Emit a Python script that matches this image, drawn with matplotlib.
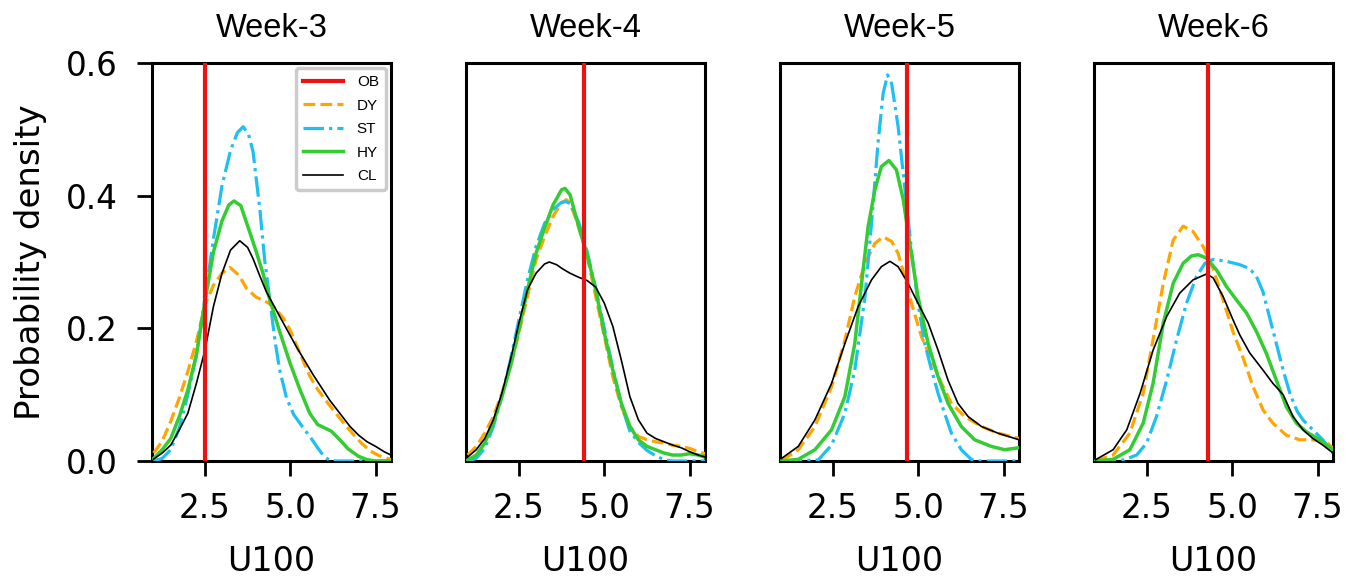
import matplotlib
matplotlib.use("Agg")
import matplotlib.pyplot as plt

# ---------------- data ----------------
WEEKS = ["Week-3", "Week-4", "Week-5", "Week-6"]
OB_VALUES = [2.5, 4.41, 4.67, 4.29]
SERIES = ["OB", "DY", "ST", "HY", "CL"]
X_TICKS = [2.5, 5.0, 7.5]
X_TICK_LABELS = ["2.5", "5.0", "7.5"]
Y_TICKS = [0.0, 0.2, 0.4, 0.6]
Y_TICK_LABELS = ["0.0", "0.2", "0.4", "0.6"]

# Week-3 density curves: (U100, density)
W3_DY = [(1.0, .012), (1.25, .03), (1.5, .06), (1.75, .095), (2.0, .135), (2.25, .18),
         (2.5, .235), (2.75, .265), (3.0, .283), (3.23, .292), (3.5, .28), (3.72, .26),
         (4.0, .247), (4.25, .241), (4.45, .236), (4.79, .216), (5.0, .197), (5.18, .175),
         (5.37, .152), (5.57, .128), (5.8, .108), (6.06, .09), (6.35, .071), (6.6, .055),
         (6.85, .04), (7.1, .026), (7.35, .015), (7.6, .008), (7.95, .002)]
W3_ST = [(1.0, 0), (1.25, .004), (1.5, .017), (1.75, .05), (2.0, .1), (2.25, .16),
         (2.5, .245), (2.75, .335), (3.0, .415), (3.25, .468), (3.45, .495), (3.62, .504),
         (3.78, .492), (3.91, .466), (4.11, .379), (4.25, .303), (4.4, .243), (4.55, .182),
         (4.69, .137), (4.89, .095), (5.1, .07), (5.35, .052), (5.6, .035), (5.8, .02),
         (6.0, .006), (6.2, 0), (7.95, 0)]
W3_HY = [(1.0, .004), (1.25, .017), (1.5, .034), (1.75, .067), (2.0, .107), (2.25, .16),
         (2.5, .24), (2.75, .315), (3.0, .362), (3.2, .386), (3.35, .392), (3.55, .385),
         (3.82, .344), (4.0, .316), (4.2, .283), (4.4, .243), (4.69, .195), (4.99, .148),
         (5.28, .108), (5.57, .072), (5.8, .055), (6.0, .05), (6.2, .045), (6.45, .032),
         (6.7, .018), (7.0, .007), (7.25, .002), (7.5, 0), (7.95, 0)]
W3_CL = [(1.0, .003), (1.25, .012), (1.5, .024), (1.75, .047), (2.0, .072), (2.25, .117),
         (2.5, .167), (2.75, .233), (3.0, .283), (3.25, .318), (3.52, .332), (3.75, .322),
         (3.91, .305), (4.1, .28), (4.3, .255), (4.69, .218), (5.18, .172), (5.67, .13),
         (6.15, .092), (6.45, .072), (6.75, .052), (7.0, .039), (7.25, .029), (7.5, .022),
         (7.75, .014), (7.95, .009)]

# Week-4
W4_DY = [(1.0, .009), (1.25, .022), (1.5, .042), (1.75, .067), (2.0, .102), (2.25, .142),
         (2.5, .193), (2.75, .248), (3.0, .303), (3.25, .338), (3.5, .369), (3.75, .389),
         (3.89, .394), (4.0, .389), (4.25, .353), (4.5, .308), (4.75, .248), (5.0, .188),
         (5.25, .127), (5.5, .082), (5.75, .052), (6.0, .037), (6.25, .032), (6.5, .029),
         (6.75, .027), (7.0, .024), (7.25, .022), (7.5, .019), (7.75, .014), (7.95, .011)]
W4_ST = [(1.0, 0), (1.25, .004), (1.5, .019), (1.75, .052), (2.0, .097), (2.25, .152),
         (2.5, .213), (2.75, .273), (3.0, .323), (3.25, .358), (3.5, .379), (3.75, .39),
         (3.88, .391), (4.0, .388), (4.25, .36), (4.5, .315), (4.75, .26), (5.0, .2),
         (5.25, .14), (5.5, .085), (5.75, .045), (6.0, .028), (6.25, .016), (6.5, .008),
         (6.75, .002), (7.0, 0), (7.95, 0)]
W4_HY = [(1.0, .0015), (1.25, .009), (1.5, .027), (1.75, .057), (2.0, .097), (2.25, .142),
         (2.5, .198), (2.75, .258), (3.0, .313), (3.25, .351), (3.5, .386), (3.75, .409),
         (3.85, .411), (4.0, .401), (4.25, .353), (4.5, .311), (4.75, .258), (5.0, .193),
         (5.25, .137), (5.5, .087), (5.75, .052), (6.0, .032), (6.25, .022), (6.5, .017),
         (6.75, .012), (7.0, .009), (7.25, .009), (7.5, .011), (7.75, .009), (7.95, .006)]
W4_CL = [(1.0, .006), (1.25, .017), (1.5, .034), (1.75, .062), (2.0, .102), (2.25, .152),
         (2.5, .208), (2.75, .258), (3.0, .283), (3.25, .297), (3.39, .3), (3.6, .296),
         (3.8, .289), (4.0, .283), (4.25, .277), (4.5, .272), (4.75, .262), (5.0, .238),
         (5.25, .203), (5.5, .152), (5.75, .097), (6.0, .062), (6.25, .042), (6.5, .034),
         (6.75, .029), (7.0, .024), (7.25, .02), (7.5, .014), (7.75, .009), (7.95, .006)]

# Week-5
W5_DY = [(1.0, .002), (1.1, .004), (1.485, .017), (1.973, .052), (2.46, .112), (2.85, .182),
         (3.14, .248), (3.44, .298), (3.73, .328), (3.97, .338), (4.22, .331), (4.41, .313),
         (4.6, .278), (4.8, .238), (5.09, .188), (5.39, .152), (5.68, .117), (5.97, .087),
         (6.36, .067), (6.85, .052), (7.33, .042), (7.95, .034)]
W5_ST = [(1.0, 0), (2.07, .0015), (2.46, .024), (2.85, .072), (3.14, .137), (3.44, .248),
         (3.63, .358), (3.82, .479), (3.97, .554), (4.1, .582), (4.22, .569), (4.41, .504),
         (4.6, .414), (4.8, .318), (4.99, .238), (5.19, .177), (5.39, .137), (5.58, .102),
         (5.77, .072), (5.97, .042), (6.26, .017), (6.55, .0025), (6.8, 0), (7.95, 0)]
W5_HY = [(1.0, 0), (1.485, .0025), (1.973, .017), (2.46, .047), (2.85, .097), (3.14, .177),
         (3.34, .268), (3.53, .353), (3.73, .409), (3.92, .444), (4.14, .453), (4.36, .439),
         (4.56, .394), (4.75, .328), (4.99, .248), (5.29, .177), (5.58, .127), (5.87, .087),
         (6.26, .052), (6.65, .032), (7.14, .022), (7.53, .017), (7.95, .02)]
W5_CL = [(1.0, .004), (1.485, .022), (1.973, .062), (2.46, .117), (2.85, .177), (3.24, .233),
         (3.63, .273), (3.92, .293), (4.17, .301), (4.41, .293), (4.7, .268), (4.99, .238),
         (5.29, .208), (5.58, .167), (5.87, .122), (6.16, .087), (6.46, .067), (6.85, .052),
         (7.33, .042), (7.95, .032)]

# Week-6
W6_DY = [(1.0, .001), (1.125, .0025), (1.51, .009), (2.0, .042), (2.39, .102), (2.68, .183),
         (2.98, .268), (3.27, .333), (3.56, .354), (3.85, .346), (4.15, .323), (4.44, .29),
         (4.73, .243), (5.02, .195), (5.32, .155), (5.61, .112), (5.9, .077), (6.19, .057),
         (6.58, .039), (6.97, .032), (7.36, .032), (7.75, .029), (7.95, .019)]
W6_ST = [(1.0, 0), (1.81, .0015), (2.2, .009), (2.49, .027), (2.78, .067), (3.08, .122),
         (3.37, .183), (3.66, .238), (3.95, .278), (4.2, .298), (4.44, .304), (4.83, .301),
         (5.22, .296), (5.51, .29), (5.71, .278), (5.9, .255), (6.1, .215), (6.3, .175),
         (6.5, .135), (6.7, .1), (6.9, .075), (7.07, .062), (7.36, .047), (7.65, .032),
         (7.95, .012)]
W6_HY = [(1.0, 0), (1.51, .0025), (2.0, .017), (2.39, .057), (2.68, .117), (2.98, .208),
         (3.27, .268), (3.56, .298), (3.8, .309), (4.0, .311), (4.24, .306), (4.54, .288),
         (4.83, .263), (5.12, .243), (5.42, .223), (5.71, .195), (6.0, .162), (6.29, .122),
         (6.58, .082), (6.88, .057), (7.17, .044), (7.56, .032), (7.95, .017)]
W6_CL = [(1.0, .002), (1.51, .017), (1.91, .047), (2.3, .102), (2.68, .167), (3.08, .218),
         (3.46, .253), (3.85, .273), (4.25, .282), (4.44, .276), (4.73, .248), (5.02, .213),
         (5.22, .19), (5.51, .163), (5.9, .137), (6.19, .117), (6.49, .1), (6.78, .067),
         (7.07, .047), (7.36, .034), (7.65, .024), (7.95, .012)]

CURVES = [
    {"DY": W3_DY, "ST": W3_ST, "HY": W3_HY, "CL": W3_CL},
    {"DY": W4_DY, "ST": W4_ST, "HY": W4_HY, "CL": W4_CL},
    {"DY": W5_DY, "ST": W5_ST, "HY": W5_HY, "CL": W5_CL},
    {"DY": W6_DY, "ST": W6_ST, "HY": W6_HY, "CL": W6_CL},
]

# ---------------- styles ----------------
STYLE = {
    "OB": dict(color="#ee1111", lw=3.0, ls="-"),
    "DY": dict(color="#ffa500", lw=2.3, ls="--"),
    "ST": dict(color="#1ebff2", lw=2.3, ls="-."),
    "HY": dict(color="#33cc33", lw=2.5, ls="-"),
    "CL": dict(color="black", lw=1.2, ls="-"),
}

W, H = 1359, 577
fig = plt.figure(figsize=(W / 100, H / 100), dpi=100)
fig.patch.set_facecolor("white")

lefts = [152, 466, 780, 1094]
ax_w, ax_top, ax_bot = 239, 63, 461

TICK_FS = 23.5
TITLE_FONT = dict(family="Liberation Sans", stretch="normal", size=23.5)
for i, (week, ob, curves) in enumerate(zip(WEEKS, OB_VALUES, CURVES)):
    ax = fig.add_axes([lefts[i] / W, (H - ax_bot) / H, ax_w / W, (ax_bot - ax_top) / H])
    handles = []
    h = ax.axvline(ob, label="OB", zorder=5, **STYLE["OB"])
    handles.append(h)
    for name in ["DY", "ST", "HY", "CL"]:
        xs, ys = zip(*curves[name])
        (ln,) = ax.plot(xs, ys, label=name, zorder=3, solid_joinstyle="round", **STYLE[name])
        handles.append(ln)
    ax.set_xlim(0.95, 7.95)
    ax.set_ylim(0, 0.6)
    ax.set_xticks(X_TICKS)
    ax.set_xticklabels(X_TICK_LABELS)
    ax.tick_params(axis="x", labelsize=TICK_FS, length=10.5, width=2.0, pad=11.5)
    if i == 0:
        ax.set_yticks(Y_TICKS)
        ax.set_yticklabels(Y_TICK_LABELS)
        ax.tick_params(axis="y", labelsize=TICK_FS, length=10.5, width=2.0, pad=14)
        ax.set_ylabel("Probability density", fontsize=24.5, labelpad=13.5)
        leg = ax.legend(handles=handles, labels=SERIES, loc="upper right",
                        prop={"family": "Liberation Sans", "stretch": "normal", "size": 11},
                        handlelength=2.6, handletextpad=0.9, labelspacing=0.62,
                        borderaxespad=0.35, borderpad=0.45, framealpha=1, fancybox=True)
        leg.get_frame().set_edgecolor("#cccccc")
        leg.get_frame().set_linewidth(2.5)
    else:
        ax.set_yticks([])
    ax.set_xlabel("U100", fontsize=24, labelpad=15)
    ax.set_title(week, fontdict=TITLE_FONT, pad=19)
    for sp in ax.spines.values():
        sp.set_linewidth(2.2)

fig.savefig("out.png", dpi=100)
